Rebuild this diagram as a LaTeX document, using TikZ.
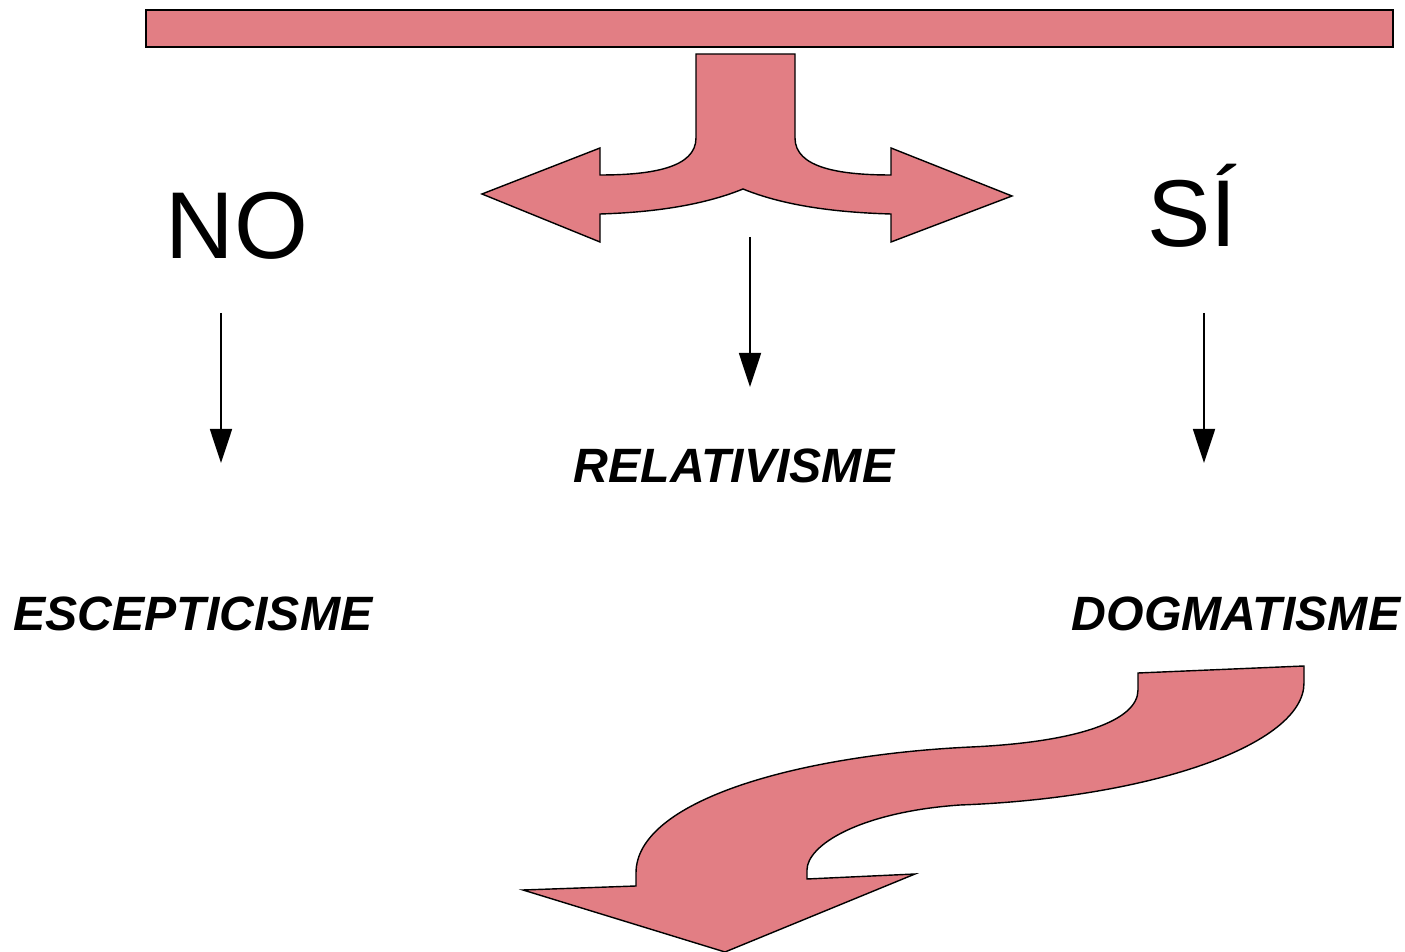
\documentclass[tikz,border=0pt]{standalone}
\usepackage{fontspec}
\setmainfont{Liberation Sans}
\usepackage{tikz}
\usetikzlibrary{arrows.meta}
\definecolor{shapepink}{RGB}{226,126,132}
\tikzset{
    pinkshape/.style={fill=shapepink, draw=black, line width=0.4pt}, % forma rosa amb vora
    thinarrow/.style={draw, line width=0.5pt, -{Triangle[length=0.34cm, width=0.22cm]}}, % fletxa negra
    bigword/.style={font=\fontsize{27}{30}\selectfont, inner sep=0pt},
    ismword/.style={font=\fontsize{13.7}{16}\selectfont\bfseries\itshape, inner sep=0pt}
}

\begin{document}
\begin{tikzpicture}[x=0.01cm, y=-0.01cm]
            \useasboundingbox (0,0) rectangle (1405,952);

            \draw[pinkshape] (146,10) rectangle (1393,47);

            % fletxa de tres branques
            \draw[pinkshape] (696,54) -- (795,54) -- (795,138)
                .. controls (795,168) and (840,175) .. (891,175) -- (891,148)
                -- (1012,196) -- (891,242) -- (891,214)
                .. controls (820,212) and (775,202) .. (743,189)
                .. controls (711,202) and (666,212) .. (600,214) -- (600,242)
                -- (482,194) -- (600,148) -- (600,175)
                .. controls (651,175) and (696,168) .. (696,138) -- cycle;

            \node[bigword] (no) at (237,226) {NO};
            \node[bigword] (si) at (1192,206) {SÍ};
            \node[ismword] (relativisme) at (734,466) {RELATIVISME};
            \node[ismword] (escepticisme) at (193,614) {ESCEPTICISME};
            \node[ismword] (dogmatisme) at (1236,614) {DOGMATISME};

            \coordinate (no top) at (221,313);    \coordinate (no end) at (221,463);
            \coordinate (mid top) at (750,237);   \coordinate (mid end) at (750,387);
            \coordinate (si top) at (1204,313);   \coordinate (si end) at (1204,463);
            \foreach \a in {no, mid, si} {\draw[thinarrow] (\a\space top) -- (\a\space end);}

            % fletxa corba cap avall
            \draw[pinkshape] (1138,673) -- (1304,666) -- (1304,683)
                .. controls (1304,745) and (1150,798) .. (960,805)
                .. controls (860,812) and (807,845) .. (807,870) -- (807,879)
                -- (915,874) -- (725,952) -- (523,890) -- (636,886) -- (636,873)
                .. controls (636,800) and (800,755) .. (971,747)
                .. controls (1080,742) and (1138,720) .. (1138,690) -- cycle;
        \end{tikzpicture}
\end{document}
